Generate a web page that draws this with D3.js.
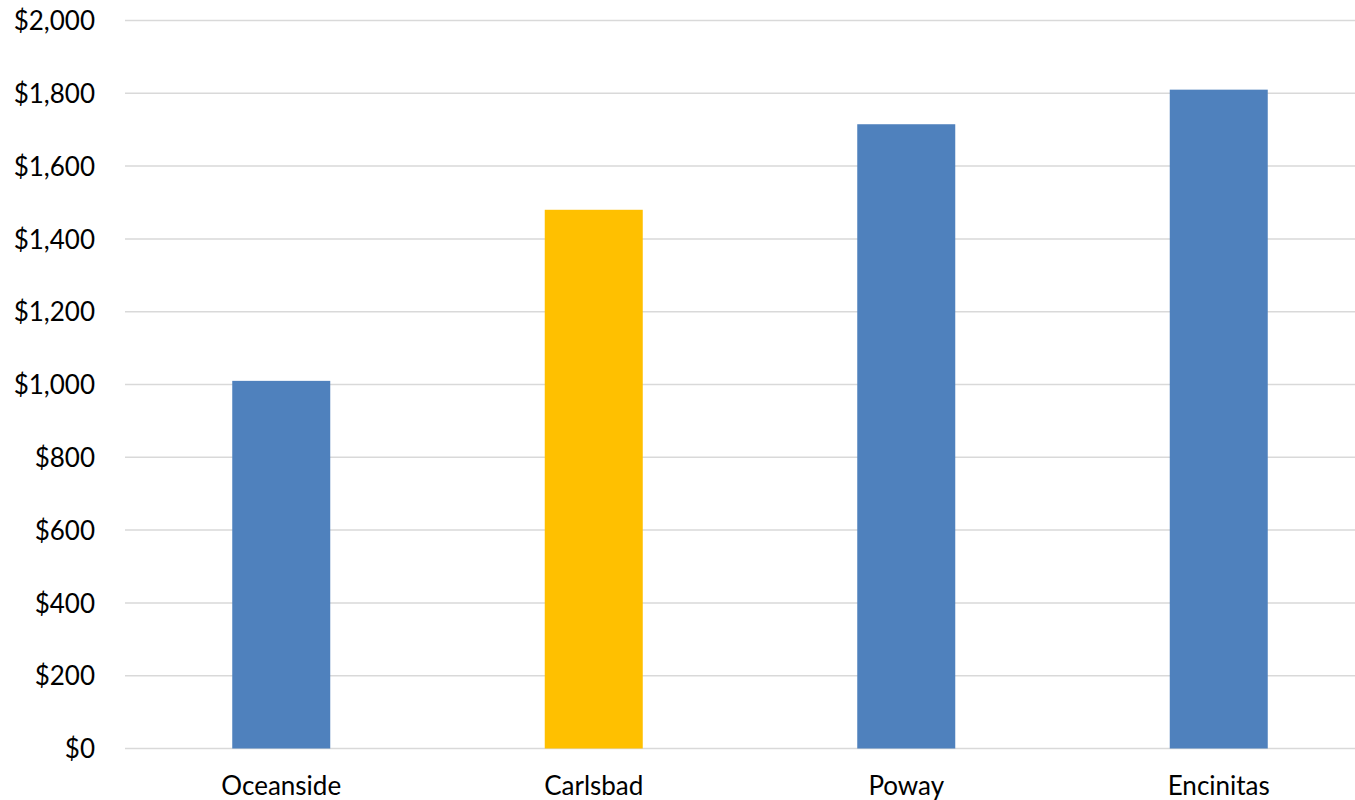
<!DOCTYPE html>
<html><head><meta charset="utf-8">
<script src="https://cdn.jsdelivr.net/npm/d3@7"></script>
<style>body{margin:0;background:#fff;} svg{display:block;} text{font-family:Lato,"Open Sans",sans-serif;fill:#000;}</style>
</head><body><svg id="c" width="1355" height="800"></svg>
<script>
const categories = ["Oceanside", "Carlsbad", "Poway", "Encinitas"];
const values = [1010, 1480, 1715, 1810];
const barColors = ["#4f81bd", "#ffc000", "#4f81bd", "#4f81bd"];
const yTicks = [0, 200, 400, 600, 800, 1000, 1200, 1400, 1600, 1800, 2000];

const svg = d3.select("#c");
const x = d3.scaleBand().domain(categories).range([125, 1375]).paddingInner(0.6864).paddingOuter(0.3432);
const y = d3.scaleLinear().domain([0, 2000]).range([748.5, 20.5]);
const fmt = d => "$" + d3.format(",")(d);

const yAxis = d3.axisLeft(y).tickValues(yTicks).tickFormat(fmt).tickSize(0).tickPadding(0);
const gy = svg.append("g").attr("transform", "translate(95,0)").call(yAxis);
gy.select(".domain").remove();
gy.selectAll("text").attr("font-size", 26).attr("dy", "0.35em").style("font-family", "Lato");

svg.append("g").selectAll("line").data(yTicks).join("line")
  .attr("x1", 125).attr("x2", 1375)
  .attr("y1", d => y(d)).attr("y2", d => y(d))
  .attr("stroke", "#d9d9d9").attr("stroke-width", 1.5);

svg.append("g").selectAll("rect").data(categories).join("rect")
  .attr("x", d => x(d)).attr("width", x.bandwidth())
  .attr("y", (d, i) => y(values[i])).attr("height", (d, i) => y(0) - y(values[i]))
  .attr("fill", (d, i) => barColors[i]);

const xAxis = d3.axisBottom(x).tickSize(0).tickPadding(0);
const gx = svg.append("g").attr("transform", "translate(0,748.5)").call(xAxis);
gx.select(".domain").remove();
gx.selectAll("text").attr("font-size", 26).attr("dy", "0").attr("y", 46).style("font-family", "Lato");
</script></body></html>
